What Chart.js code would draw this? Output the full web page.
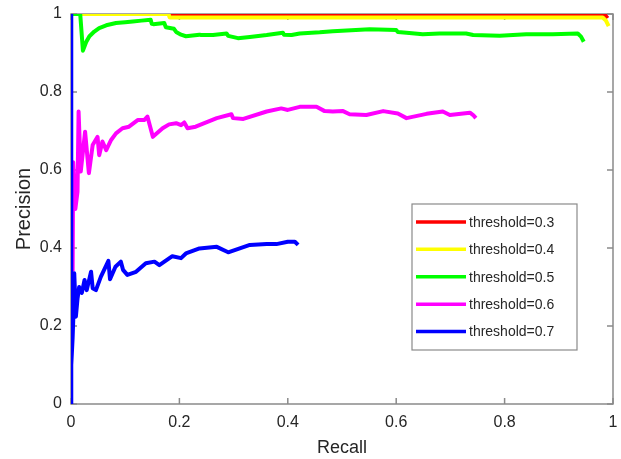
<!DOCTYPE html>
<html>
<head>
<meta charset="utf-8">
<script src="https://cdn.jsdelivr.net/npm/chart.js@4.4.0/dist/chart.umd.min.js"></script>
<style>
html,body{margin:0;padding:0;background:#fff;}
#wrap{width:621px;height:459px;position:relative;}
</style>
</head>
<body>
<div id="wrap"><canvas id="c" width="621" height="459"></canvas></div>
<script>
// ---- data ----
const seriesLabels = ['threshold=0.3','threshold=0.4','threshold=0.5','threshold=0.6','threshold=0.7'];
const seriesColors = ['#ff0000','#ffff00','#00ff00','#ff00ff','#0000ff'];
const axisTicks = [0, 0.2, 0.4, 0.6, 0.8, 1];
const axisTickLabels = ['0','0.2','0.4','0.6','0.8','1'];

const redRecall    = [0, 0.984, 0.99];
const redPrecision = [1, 1, 0.989];

const yellowRecall    = [0, 0.18, 0.182, 0.981, 0.987, 0.992];
const yellowPrecision = [1, 1, 0.991, 0.991, 0.983, 0.969];

const greenRecall = [0, 0.017, 0.022, 0.028, 0.034, 0.043, 0.052, 0.065, 0.083, 0.1, 0.114, 0.13, 0.147, 0.149, 0.152, 0.172, 0.175, 0.19, 0.194, 0.203, 0.212, 0.237, 0.24, 0.262, 0.287, 0.29, 0.308, 0.33, 0.361, 0.391, 0.393, 0.407, 0.422, 0.459, 0.483, 0.551, 0.6, 0.603, 0.619, 0.649, 0.68, 0.729, 0.742, 0.791, 0.84, 0.889, 0.935, 0.941, 0.946];
const greenPrecision = [1, 1, 0.906, 0.928, 0.943, 0.955, 0.964, 0.971, 0.977, 0.979, 0.981, 0.983, 0.985, 0.975, 0.974, 0.977, 0.966, 0.962, 0.954, 0.947, 0.943, 0.947, 0.946, 0.946, 0.95, 0.944, 0.938, 0.941, 0.946, 0.952, 0.947, 0.946, 0.95, 0.953, 0.956, 0.961, 0.959, 0.954, 0.952, 0.948, 0.95, 0.95, 0.946, 0.944, 0.948, 0.948, 0.95, 0.942, 0.929];

const magentaRecall = [0.003, 0.004, 0.008, 0.012, 0.014, 0.018, 0.026, 0.033, 0.04, 0.049, 0.052, 0.058, 0.065, 0.074, 0.083, 0.095, 0.107, 0.123, 0.135, 0.141, 0.151, 0.169, 0.181, 0.194, 0.203, 0.209, 0.215, 0.23, 0.246, 0.269, 0.296, 0.299, 0.318, 0.361, 0.388, 0.4, 0.422, 0.453, 0.468, 0.483, 0.502, 0.514, 0.545, 0.576, 0.603, 0.619, 0.656, 0.686, 0.699, 0.736, 0.742, 0.747];
const magentaPrecision = [0.34, 0.62, 0.5, 0.544, 0.75, 0.596, 0.698, 0.592, 0.664, 0.685, 0.638, 0.673, 0.651, 0.677, 0.694, 0.707, 0.711, 0.728, 0.728, 0.737, 0.685, 0.707, 0.717, 0.72, 0.715, 0.722, 0.707, 0.711, 0.72, 0.733, 0.743, 0.733, 0.731, 0.75, 0.758, 0.754, 0.762, 0.762, 0.751, 0.75, 0.751, 0.743, 0.741, 0.751, 0.745, 0.733, 0.744, 0.75, 0.741, 0.747, 0.741, 0.733];

const blueRecall = [0, 0, 0.001, 0.003, 0.005, 0.006, 0.009, 0.012, 0.015, 0.02, 0.025, 0.029, 0.037, 0.04, 0.046, 0.055, 0.069, 0.072, 0.082, 0.092, 0.096, 0.104, 0.12, 0.138, 0.154, 0.163, 0.187, 0.203, 0.212, 0.237, 0.269, 0.29, 0.33, 0.361, 0.379, 0.4, 0.413, 0.419];
const bluePrecision = [1, 0, 0.1, 0.17, 0.25, 0.335, 0.224, 0.27, 0.3, 0.285, 0.318, 0.292, 0.339, 0.297, 0.292, 0.326, 0.367, 0.32, 0.352, 0.365, 0.344, 0.331, 0.339, 0.361, 0.365, 0.356, 0.379, 0.374, 0.386, 0.399, 0.403, 0.389, 0.408, 0.41, 0.41, 0.416, 0.416, 0.408];

const allRecall = [redRecall, yellowRecall, greenRecall, magentaRecall, blueRecall];
const allPrecision = [redPrecision, yellowPrecision, greenPrecision, magentaPrecision, bluePrecision];

const FONT = "'Liberation Sans', Arial, sans-serif";

function pts(xs, ys){ return xs.map((x,i)=>({x:x, y:ys[i]})); }

const datasets = seriesLabels.map((lab, i) => ({
  label: lab,
  data: pts(allRecall[i], allPrecision[i]),
  borderColor: seriesColors[i],
  backgroundColor: seriesColors[i],
  borderWidth: 4,
  pointRadius: 0,
  tension: 0,
  fill: false,
  borderJoinStyle: 'round',
  order: seriesLabels.length - 1 - i
}));

const boxPlugin = {
  id: 'matlabBox',
  beforeDatasetsDraw(chart){
    const {ctx, chartArea:a, scales:{x, y}} = chart;
    ctx.save();
    ctx.strokeStyle = '#8a8a8a';
    ctx.lineWidth = 1.5;
    ctx.strokeRect(a.left, a.top, a.right - a.left, a.bottom - a.top);
    const L = 6;
    ctx.beginPath();
    axisTicks.forEach(t => {
      const px = x.getPixelForValue(t);
      ctx.moveTo(px, a.bottom); ctx.lineTo(px, a.bottom - L);
      ctx.moveTo(px, a.top); ctx.lineTo(px, a.top + L);
      const py = y.getPixelForValue(t);
      ctx.moveTo(a.left, py); ctx.lineTo(a.left + L, py);
      ctx.moveTo(a.right, py); ctx.lineTo(a.right - L, py);
    });
    ctx.stroke();
    ctx.restore();
  },
  afterDraw(chart){
    const ctx = chart.ctx;
    ctx.save();
    const bx = 412, by = 204, bw = 165, bh = 146;
    ctx.fillStyle = '#ffffff';
    ctx.fillRect(bx, by, bw, bh);
    ctx.strokeStyle = '#8a8a8a';
    ctx.lineWidth = 1.2;
    ctx.strokeRect(bx, by, bw, bh);
    const rows = [222, 249.3, 276.7, 304.3, 331.5];
    ctx.font = '14px ' + FONT;
    ctx.textBaseline = 'middle';
    ctx.textAlign = 'left';
    chart.data.datasets.forEach((ds, i) => {
      const yy = rows[i];
      ctx.strokeStyle = ds.borderColor;
      ctx.lineWidth = 3.5;
      ctx.beginPath();
      ctx.moveTo(416, yy); ctx.lineTo(466, yy);
      ctx.stroke();
      ctx.fillStyle = '#262626';
      ctx.fillText(ds.label, 469, yy + 1);
    });
    ctx.restore();
  }
};

function tickCb(v){
  const idx = axisTicks.findIndex(t => Math.abs(t - v) < 1e-6);
  return idx >= 0 ? axisTickLabels[idx] : '';
}

new Chart(document.getElementById('c'), {
  type: 'line',
  data: { datasets },
  options: {
    responsive: false,
    animation: false,
    layout: { padding: { top: 14, right: 8, left: 0, bottom: 0 } },
    plugins: { legend: { display: false }, tooltip: { enabled: false } },
    scales: {
      x: {
        type: 'linear', min: 0, max: 1,
        grid: { display: false, drawTicks: false },
        border: { display: false },
        ticks: { stepSize: 0.2, autoSkip: false, maxRotation: 0, padding: 9,
                 color: '#262626', font: { family: FONT, size: 16 }, callback: tickCb },
        title: { display: true, text: 'Recall', color: '#262626',
                 font: { family: FONT, size: 18 }, padding: { top: 0, bottom: 0 } },
        afterFit(s){ s.height = 55; s.paddingLeft = 0; s.paddingRight = 0; }
      },
      y: {
        type: 'linear', min: 0, max: 1,
        grid: { display: false, drawTicks: false },
        border: { display: false },
        ticks: { stepSize: 0.2, autoSkip: false, padding: 9,
                 color: '#262626', font: { family: FONT, size: 16 }, callback: tickCb },
        title: { display: true, text: 'Precision', color: '#262626',
                 font: { family: FONT, size: 20 }, padding: { top: 12, bottom: 0 } },
        afterFit(s){ s.width = 71; s.paddingTop = 0; s.paddingBottom = 0; }
      }
    }
  },
  plugins: [boxPlugin]
});
</script>
</body>
</html>
